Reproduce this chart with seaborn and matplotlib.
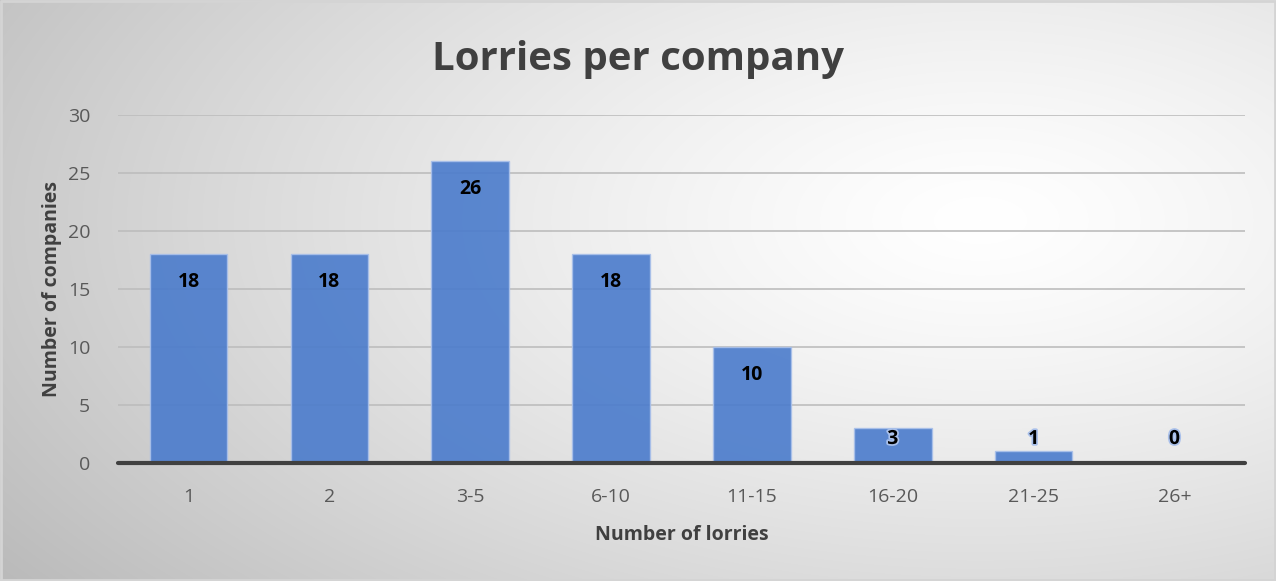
import numpy as np
import pandas as pd
import matplotlib.pyplot as plt
import matplotlib.patheffects as pe
import seaborn as sns

categories = ['1', '2', '3-5', '6-10', '11-15', '16-20', '21-25', '26+']
companies = [18, 18, 26, 18, 10, 3, 1, 0]
yticks = [0, 5, 10, 15, 20, 25, 30]

df = pd.DataFrame({'lorries': categories, 'companies': companies})

sns.set_style("white")
plt.rcParams['font.family'] = ['Open Sans', 'DejaVu Sans']

fig = plt.figure(figsize=(12.76, 5.81), dpi=100)

# radial grey-to-white background like the office chart style
bg = fig.add_axes([0, 0, 1, 1], zorder=-10)
h, w = 581, 1276
yy, xx = np.mgrid[0:h, 0:w]
d = np.sqrt(((xx - 980) / 1100) ** 2 + ((yy - 220) / 560) ** 2)
shade = 1 - 0.24 * np.clip(d, 0, 1.15) ** 1.3
bg.imshow(np.dstack([shade] * 3), extent=[0, 1, 0, 1], aspect='auto', origin='upper')
bg.plot([0.001, 0.999, 0.999, 0.001, 0.001], [0.002, 0.002, 0.998, 0.998, 0.002],
        color='#d4d4d4', lw=2)
bg.set_xlim(0, 1)
bg.set_ylim(0, 1)
bg.axis('off')

ax = fig.add_axes([0.0925, 0.2031, 0.8832, 0.599])
ax.set_facecolor('none')

for t in yticks[1:]:
    ax.axhline(t, color='#bdbdbd', lw=1.2, zorder=0)

sns.barplot(data=df, x='lorries', y='companies', color='#4a7bcc', saturation=1,
            width=0.55, alpha=0.9, edgecolor='#a9c0ea', linewidth=1, ax=ax, zorder=2)

ax.axhline(0, color='#404040', lw=3, zorder=3, clip_on=False)

for i, v in enumerate(companies):
    effects = [pe.withStroke(linewidth=2.5, foreground='#a9c0ea')] if v < 5 else []
    ax.text(i, max(v - 2.4, 2.07), str(v), ha='center', va='center',
            fontsize=14, fontweight='bold', color='black', zorder=4,
            path_effects=effects)

ax.set_ylim(0, 30)
ax.set_xlim(-0.5, len(categories) - 0.5)
ax.set_yticks(yticks)
ax.tick_params(axis='both', length=0, labelsize=14, labelcolor='#595959')
ax.tick_params(axis='y', pad=20)
ax.tick_params(axis='x', pad=18)
for s in ax.spines.values():
    s.set_visible(False)

ax.set_xlabel('Number of lorries', fontsize=14, fontweight='bold', color='#404040', labelpad=14)
ax.set_ylabel('Number of companies', fontsize=14, fontweight='bold', color='#404040', labelpad=4)
fig.suptitle('Lorries per company', x=0.5, y=0.932, fontsize=29, fontweight='bold', color='#404040')

plt.savefig('out.png', dpi=100)
